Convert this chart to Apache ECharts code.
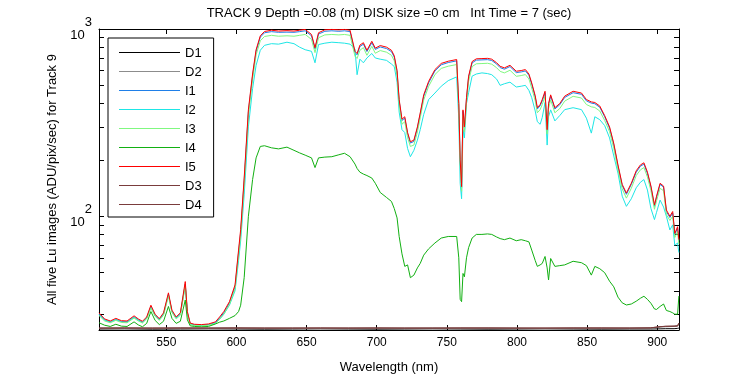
<!DOCTYPE html>
<html>
<head>
<meta charset="utf-8">
<script src="https://cdn.jsdelivr.net/npm/echarts@6/dist/echarts.min.js"></script>
<style>
  html, body { margin: 0; padding: 0; background: #fff; }
  #chart { width: 750px; height: 375px; }
</style>
</head>
<body>
<div id="chart"></div>
<script>
// wavelength grid (nm) shared by the five Lu images
var WL = [
  502, 503, 506, 510, 514, 518, 522, 527, 530, 533,
  536, 539, 542, 545, 548, 551.5, 554, 557, 560, 563.5,
  565, 567, 570, 575, 580, 585, 588, 591, 595, 599,
  601.5, 603, 605.5, 608.5, 611.5, 614, 617, 620, 625, 630,
  636, 641, 645, 649, 653.5, 656, 658.5, 663, 668, 673,
  677, 681, 684.5, 686, 688, 690.5, 693, 696.5, 699, 702.5,
  707, 710.5, 712.5, 714.5, 716, 718, 720, 722, 724, 726.5,
  729, 731, 733.5, 737, 741.5, 746, 751, 757, 758.5, 759.5,
  760.5, 761.5, 762.5, 764, 765.5, 768, 771, 775, 779, 782,
  785.5, 788, 791, 795, 799.5, 803, 806, 808.5, 810.5, 813,
  814.5, 816.5, 818, 820, 821.5, 822.5, 824, 827, 830.5, 834,
  840, 846, 849.5, 853, 855.5, 859, 862.5, 866, 869, 872,
  875, 878, 881.5, 885, 888, 890.5, 893, 895.5, 898, 899.5,
  902, 904.5, 906.5, 909, 911, 912.5, 914.5, 915.4
]

var I1 = [
  30, 30.3, 28, 27.3, 28.1, 27.4, 27.3, 29, 28, 27.2,
  28.7, 33, 29.6, 28.1, 30.1, 38.3, 31.1, 28.7, 30.1, 43.5,
  30.6, 26.7, 26.3, 26.2, 26.4, 27, 28.6, 30.5, 34.4, 42,
  64, 82, 155, 360, 562, 760, 905, 955, 968, 960,
  962, 960, 968, 978, 920, 782, 940, 972, 978, 972,
  978, 968, 748, 728, 806, 830, 758, 845, 778, 802,
  786, 757, 708, 590, 413, 325, 334, 276, 246, 251,
  295, 350, 437, 516, 597, 644, 662, 676, 395, 198,
  142, 364, 296, 423, 551, 659, 682, 684, 686, 679,
  650, 622, 610, 630, 585, 590, 597, 566, 507, 433,
  374, 389, 413, 457, 286, 394, 438, 374, 394, 431,
  457, 448, 413, 402, 399, 382, 340, 295, 241, 185,
  146, 131, 148, 172, 185, 190, 169, 143, 113, 126,
  148, 143, 106, 98.5, 104, 80, 86.5, 74
]

var I2 = [
  29.8, 30, 27.9, 27.2, 28.1, 27.3, 27.2, 28.9, 27.9, 27.1,
  28.6, 32.8, 29.5, 28, 30, 38, 31, 28.6, 30, 43,
  30.5, 26.6, 26.2, 26.1, 26.3, 26.8, 28.2, 30, 33.5, 40,
  58, 74, 130, 300, 480, 640, 770, 818, 835, 830,
  850, 835, 800, 775, 760, 660, 826, 840, 850, 845,
  840, 830, 780, 570, 690, 660, 700, 740, 700, 690,
  680, 650, 630, 520, 360, 290, 280, 230, 208, 225,
  255, 290, 350, 420, 455, 495, 530, 555, 330, 150,
  124, 290, 262, 400, 457, 560, 575, 583, 578, 570,
  540, 500, 510, 520, 490, 495, 500, 470, 430, 365,
  320, 310, 337, 405, 240, 340, 370, 323, 345, 371,
  380, 371, 334, 278, 340, 328, 305, 262, 210, 170,
  128, 113, 124, 142, 152, 157, 138, 110, 96, 105,
  122, 112, 100, 84.5, 90, 70, 72, 64
]

var I3 = [
  29.5, 29.8, 27.6, 27, 27.8, 27.1, 27, 28.6, 27.6, 26.9,
  28.3, 32.3, 29.2, 27.8, 29.6, 37.5, 30.6, 28.3, 29.6, 42.5,
  30.2, 26.4, 26.1, 26, 26.2, 26.7, 28.2, 30, 33.8, 41,
  62, 79, 148, 345, 540, 728, 865, 912, 925, 915,
  920, 915, 925, 935, 880, 748, 898, 930, 935, 930,
  935, 925, 715, 696, 770, 795, 724, 808, 742, 767,
  752, 724, 677, 564, 395, 310, 320, 263, 236, 240,
  282, 335, 418, 494, 571, 616, 633, 646, 378, 190,
  136, 348, 283, 405, 527, 630, 652, 654, 656, 649,
  621, 594, 583, 602, 559, 564, 571, 541, 484, 414,
  357, 371, 395, 437, 275, 376, 418, 357, 376, 412,
  437, 428, 395, 384, 381, 365, 325, 283, 231, 177,
  140, 125, 141, 165, 177, 182, 162, 137, 109, 121,
  141, 137, 102, 95, 100, 77, 83, 71
]

var I4 = [
  27, 27.2, 26.2, 25.8, 26.5, 25.9, 25.8, 27.3, 26.3, 25.7,
  26.8, 31, 27.8, 26.4, 27.5, 33, 28.5, 26.8, 27.5, 35.7,
  28, 26, 25.8, 25.7, 25.8, 26.6, 27.2, 27.6, 28.5, 29.5,
  31, 33.5, 47, 100, 157, 205, 236, 238, 232, 229,
  234, 225, 218, 212, 205, 182, 205, 207, 208, 213,
  217, 208, 190, 180, 172, 168, 165, 160, 150, 134,
  126, 120, 110, 98, 78, 63, 54, 55, 47, 48.5,
  53, 56, 62, 67, 72, 76.5, 78, 78, 60, 36,
  35, 49.5, 47.5, 60, 68, 76.5, 80, 80, 80.5, 80,
  77.5, 76, 75, 76.5, 74, 75, 74, 73, 66, 58,
  54, 55, 56, 61, 53, 45.7, 59.5, 54, 54.5, 55,
  57.5, 56.5, 54.5, 48.5, 54, 52.5, 50, 45, 42, 37,
  34.5, 33.6, 34, 35.2, 36.5, 37.4, 36, 34.3, 32, 31.8,
  33, 34, 31.4, 31, 30.5, 30, 30, 37.5
]

var I5 = [
  30.5, 30.8, 28.3, 27.6, 28.5, 27.7, 27.6, 29.4, 28.3, 27.5,
  29, 33.5, 30, 28.4, 30.5, 39, 31.5, 29, 30.5, 44.8,
  31, 26.9, 26.5, 26.4, 26.6, 27.3, 29, 31, 35, 43,
  66, 85, 160, 370, 575, 775, 920, 970, 985, 975,
  980, 975, 985, 995, 935, 795, 955, 990, 995, 990,
  995, 985, 760, 740, 820, 845, 770, 860, 790, 816,
  800, 770, 720, 600, 420, 330, 340, 280, 250, 255,
  300, 356, 445, 525, 607, 655, 673, 687, 400, 200,
  144, 370, 300, 430, 560, 670, 693, 695, 697, 690,
  660, 632, 620, 640, 595, 600, 607, 575, 515, 440,
  380, 395, 420, 465, 290, 400, 445, 380, 400, 438,
  465, 455, 420, 408, 405, 388, 345, 300, 245, 188,
  148, 133, 150, 175, 188, 193, 172, 145, 115, 128,
  150, 145, 108, 100, 106, 81, 88, 75
]

// dark frames, own wavelength grid
var DARK_WL = [502, 520, 540, 560, 580, 600, 620, 640, 660, 680, 700, 720, 740,
  760, 780, 800, 820, 840, 860, 880, 895, 902, 906, 912, 914.5, 915.4]
var D1 = [25, 25.05, 24.95, 25, 25.05, 25, 24.95, 25, 25.05, 25, 24.95, 25, 25.05,
  25, 24.95, 25, 25.05, 25, 24.95, 25, 25, 25.05, 25.1, 25.1, 25.2, 25.3]
var D2 = [25.2, 25.2, 25.15, 25.2, 25.2, 25.25, 25.2, 25.2, 25.15, 25.2, 25.2, 25.2, 25.25,
  25.2, 25.2, 25.2, 25.15, 25.2, 25.2, 25.25, 25.3, 25.6, 25.7, 25.8, 25.9, 26.5]
var D3 = [25.3, 25.3, 25.3, 25.35, 25.3, 25.3, 25.3, 25.3, 25.35, 25.3, 25.3, 25.3, 25.3,
  25.35, 25.3, 25.3, 25.3, 25.3, 25.35, 25.3, 25.35, 25.7, 25.85, 25.9, 26, 26.8]
var D4 = [25.3, 25.35, 25.3, 25.3, 25.3, 25.35, 25.3, 25.3, 25.3, 25.3, 25.35, 25.3, 25.3,
  25.3, 25.35, 25.3, 25.3, 25.35, 25.3, 25.3, 25.35, 25.75, 25.85, 25.9, 26, 26.9]

var X_TICKS = [550, 600, 650, 700, 750, 800, 850, 900]
var Y_TICKS = [30, 40, 50, 60, 70, 80, 90, 100, 200, 300, 400, 500, 600, 700, 800, 900, 1000]
var Y_LABELS = [100, 1000]

var NAMES = ['D1', 'D2', 'I1', 'I2', 'I3', 'I4', 'I5', 'D3', 'D4']
var COLORS = ['#000000', '#8c8c8c', '#1f7fe8', '#1ee6e6', '#80f880', '#12b012', '#ff0000', '#7a3c3c', '#7a3c3c']

var FONT = '"Liberation Sans", Arial, sans-serif'

// plain line for the legend: a 1px bar in the middle of a 61x14 box
var LINE_ICON = 'path://M0,0h0.01v0.01h-0.01z M0,6h61v1h-61z M0,13.99h0.01v0.01h-0.01z'

function pairs(xs, ys) {
  return xs.map(function (x, i) { return [x, ys[i]] })
}

var DATA = [
  pairs(DARK_WL, D1), pairs(DARK_WL, D2),
  pairs(WL, I1), pairs(WL, I2), pairs(WL, I3), pairs(WL, I4), pairs(WL, I5),
  pairs(DARK_WL, D3), pairs(DARK_WL, D4)
]

var chart = echarts.init(document.getElementById('chart'), null, { renderer: 'canvas' })

var axisBase = {
  axisLine: { show: true, lineStyle: { color: '#000', width: 1 } },
  splitLine: { show: false },
  minorTick: { show: false }
}

chart.setOption({
  animation: false,
  backgroundColor: '#fff',
  textStyle: { fontFamily: FONT },
  grid: {
    left: 99, right: 71, top: 29, bottom: 45,
    containLabel: false,
    outerBoundsMode: 'none'
  },
  graphic: [{
    type: 'text',
    x: 389, y: 13,
    style: {
      text: 'TRACK 9 Depth =0.08 (m) DISK size =0 cm   Int Time = 7 (sec)',
      font: '13px ' + FONT,
      fill: '#000',
      textAlign: 'center',
      textVerticalAlign: 'middle'
    }
  }],
  legend: {
    data: NAMES.map(function (n) { return { name: n, icon: LINE_ICON } }),
    orient: 'vertical',
    left: 108,
    top: 38,
    itemWidth: 61,
    itemHeight: 14,
    itemGap: 5,
    padding: [8, 12, 5, 11],
    borderColor: '#000',
    borderWidth: 1,
    backgroundColor: '#fff',
    textStyle: { color: '#000', fontSize: 13, fontFamily: FONT },
    z: 10
  },
  xAxis: [
    Object.assign({}, axisBase, {
      type: 'value',
      min: 502,
      max: 915.5,
      position: 'bottom',
      name: 'Wavelength (nm)',
      nameLocation: 'middle',
      nameGap: 31,
      nameTextStyle: { color: '#000', fontSize: 13, fontFamily: FONT },
      axisTick: { show: true, inside: true, length: 5, customValues: X_TICKS, lineStyle: { color: '#000' } },
      axisLabel: { show: true, customValues: X_TICKS, margin: 7, color: '#000', fontSize: 12, fontFamily: FONT }
    }),
    Object.assign({}, axisBase, {
      type: 'value',
      min: 502,
      max: 915.5,
      position: 'top',
      axisTick: { show: true, inside: true, length: 5, customValues: X_TICKS, lineStyle: { color: '#000' } },
      axisLabel: { show: false }
    })
  ],
  yAxis: [
    Object.assign({}, axisBase, {
      type: 'log',
      logBase: 10,
      min: 24.7,
      max: 1000,
      position: 'left',
      name: 'All five Lu images (ADU/pix/sec) for Track 9',
      nameLocation: 'middle',
      nameGap: 38,
      nameTextStyle: { color: '#000', fontSize: 13, fontFamily: FONT },
      axisTick: { show: true, inside: true, length: 5, customValues: Y_TICKS, lineStyle: { color: '#000' } },
      axisLabel: {
        show: true,
        customValues: Y_LABELS,
        margin: 7,
        formatter: function (v) {
          return '{b|10}{e|' + Math.round(Math.log10(v)) + '}'
        },
        rich: {
          b: { fontSize: 13, lineHeight: 26, verticalAlign: 'bottom', color: '#000', fontFamily: FONT },
          e: { fontSize: 13, lineHeight: 26, verticalAlign: 'top', color: '#000', fontFamily: FONT }
        }
      }
    }),
    Object.assign({}, axisBase, {
      type: 'log',
      logBase: 10,
      min: 24.7,
      max: 1000,
      position: 'right',
      axisTick: { show: true, inside: true, length: 5, customValues: Y_TICKS, lineStyle: { color: '#000' } },
      axisLabel: { show: false }
    })
  ],
  series: NAMES.map(function (name, i) {
    return {
      name: name,
      type: 'line',
      xAxisIndex: 0,
      yAxisIndex: 0,
      data: DATA[i],
      symbol: 'none',
      color: COLORS[i],
      lineStyle: { color: COLORS[i], width: 1 },
      clip: true
    }
  })
})
</script>
</body>
</html>
